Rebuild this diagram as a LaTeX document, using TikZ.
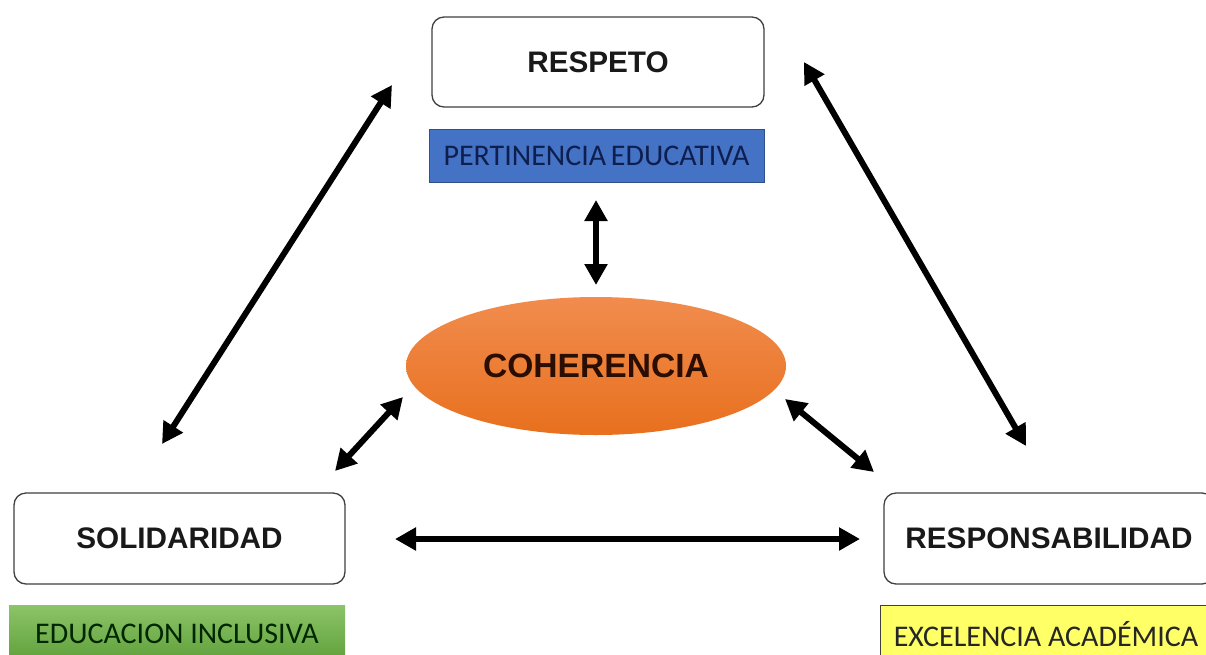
\documentclass[tikz,border=0pt]{standalone}
\usepackage{fontspec}
\setmainfont{Liberation Sans}
\newfontfamily\cali{Carlito}
\usetikzlibrary{shapes.geometric,arrows.meta}
\definecolor{boxline}{HTML}{404040}
\definecolor{pblue}{HTML}{4472C4}
\definecolor{ptext}{HTML}{0E1F4F}
\definecolor{gtop}{HTML}{8CC469}
\definecolor{gbot}{HTML}{5E9F38}
\definecolor{yfill}{HTML}{FFFF66}
\definecolor{otop}{HTML}{F18C4E}
\definecolor{obot}{HTML}{E8701E}
\definecolor{otext}{HTML}{2A0E04}
\tikzset{
  valuebox/.style={draw=boxline, line width=1.3pt, rounded corners=12pt, fill=white,
    minimum height=90pt, inner sep=0pt, font=\fontsize{29.7}{31}\selectfont\bfseries, text=black!90},
  tagbox/.style={inner sep=0pt, font=\cali\fontsize{30}{32}\selectfont},
  dbl/.style={line width=6pt, {Triangle[length=21pt,width=22pt]}-{Triangle[length=21pt,width=22pt]}}
}
\begin{document}
\begin{tikzpicture}[x=1pt,y=-1pt]
\useasboundingbox (0,0) rectangle (1206,654);
\clip (0,0) rectangle (1206,654);
\fill[white] (0,0) rectangle (1206,654);

\node[valuebox, minimum width=332pt] (resp) at (598,62) {RESPETO};
\node[tagbox, fill=pblue, draw=pblue!70!black, line width=0.6pt, minimum width=335pt, minimum height=53pt, text=ptext] (pert) at (596.5,155.5) {PERTINENCIA\hspace{-2pt} EDUCATIVA};

\node[ellipse, minimum width=380pt, minimum height=138pt, inner sep=0pt,
      top color=otop, bottom color=obot, draw=none,
      font=\fontsize{33.6}{35}\selectfont\bfseries, text=otext] (coh) at (596,366) {COHERENCIA};

\node[valuebox, minimum width=331pt, minimum height=91pt] (soli) at (179.5,538.5) {SOLIDARIDAD};
\node[tagbox, top color=gtop, bottom color=gbot, minimum width=336pt, minimum height=58pt, text=black!85!green] (educ) at (177,634) {EDUCACION INCLUSIVA};

\node[valuebox, minimum width=330pt, minimum height=91pt] (respo) at (1049,538.5) {RESPONSABILIDAD};
\node[tagbox, fill=yfill, draw=boxline, line width=0.8pt, minimum width=332pt, minimum height=58pt, text=black!85] (exc) at (1046,634) {EXCELENCIA ACADÉMICA};

% arrow end points
\coordinate (a1) at (392,85);   \coordinate (a2) at (162,444);
\coordinate (b1) at (804,62);   \coordinate (b2) at (1026,446);
\coordinate (c1) at (596,200);  \coordinate (c2) at (596,285);
\coordinate (d1) at (403,397);  \coordinate (d2) at (335,471);
\coordinate (e1) at (785,399);  \coordinate (e2) at (874,472);
\coordinate (f1) at (395,539);  \coordinate (f2) at (860,539);

\draw[dbl] (a1) -- (a2);
\draw[dbl] (b1) -- (b2);
\draw[dbl] (c1) -- (c2);
\draw[dbl] (d1) -- (d2);
\draw[dbl] (e1) -- (e2);
\draw[dbl] (f1) -- (f2);
\end{tikzpicture}
\end{document}
